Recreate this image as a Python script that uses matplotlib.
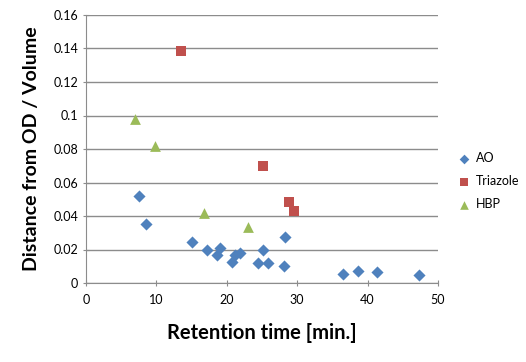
import numpy as np
import matplotlib.pyplot as plt

# data
ao_x = [7.5, 8.5, 15.1, 17.2, 18.6, 19.0, 20.7, 21.2, 21.9, 24.5, 25.1, 25.9, 28.2, 28.1, 36.5, 38.7, 41.4, 47.3]
ao_y = [0.052, 0.035, 0.0245, 0.020, 0.017, 0.021, 0.0125, 0.017, 0.018, 0.0117, 0.020, 0.0117, 0.0273, 0.010, 0.0052, 0.007, 0.0064, 0.005]
tri_x = [13.5, 25.2, 28.8, 29.5]
tri_y = [0.1387, 0.070, 0.0484, 0.043]
hbp_x = [6.9, 9.8, 16.7, 23.0]
hbp_y = [0.0977, 0.0818, 0.0418, 0.0334]

plt.rcParams['font.family'] = ['Lato', 'DejaVu Sans']

fig = plt.figure(figsize=(5.26, 3.62), dpi=100)
ax = fig.add_axes([86/526, 1-283/362, (438-86)/526, (283-15)/362])

ax.scatter(ao_x, ao_y, marker='D', s=38, color='#4F81BD', label='AO', zorder=3, linewidths=0)
ax.scatter(tri_x, tri_y, marker='s', s=60, color='#C0504D', label='Triazole', zorder=3, linewidths=0)
ax.scatter(hbp_x, hbp_y, marker='^', s=60, color='#9BBB59', label='HBP', zorder=3, linewidths=0)

ax.set_xlim(0, 50)
ax.set_ylim(0, 0.16)
ax.set_xticks(np.arange(0, 51, 10))
ax.set_yticks(np.arange(0, 0.161, 0.02))
ax.set_yticklabels(['0', '0.02', '0.04', '0.06', '0.08', '0.1', '0.12', '0.14', '0.16'])
ax.yaxis.grid(True, color='#8c8c8c', linewidth=1)
ax.set_axisbelow(True)
for s in ['top', 'right']:
    ax.spines[s].set_visible(False)
for s in ['left', 'bottom']:
    ax.spines[s].set_color('#8c8c8c')
ax.tick_params(axis='both', colors='#8c8c8c', labelcolor='black', labelsize=9, length=4, direction='inout')
ax.tick_params(axis='x', pad=6)

ax.set_xlabel('Retention time [min.]', fontsize=14.5, fontweight='bold', labelpad=12)
ax.set_ylabel('Distance from OD / Volume', fontsize=14, fontweight='bold', labelpad=10)

ax.legend(loc='center left', bbox_to_anchor=(1.005, 0.38), frameon=False, fontsize=9,
          handletextpad=0.0, labelspacing=0.9, markerscale=0.8)

fig.savefig('out.png', dpi=100)
